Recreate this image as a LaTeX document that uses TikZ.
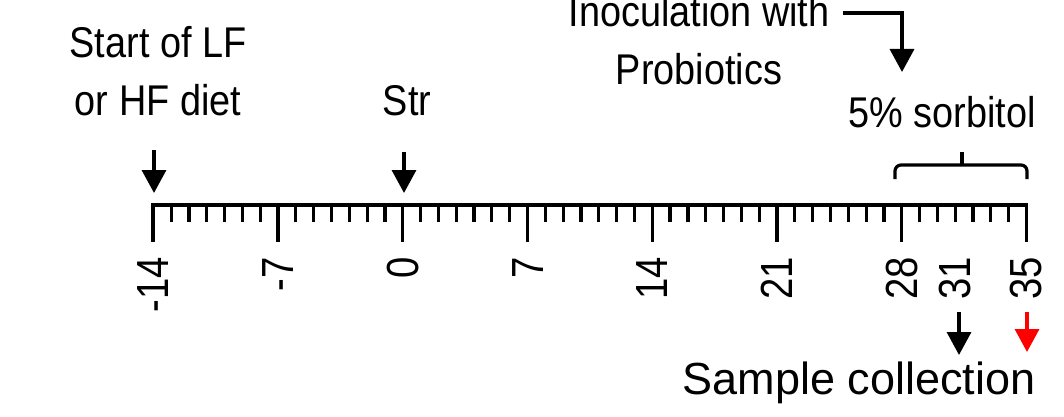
\documentclass[tikz,border=0pt]{standalone}
\usepackage{fontspec}
\setmainfont{Liberation Sans}
\newfontfamily\narrowfont{Liberation Sans}[FakeStretch=0.88]
\newfontfamily\numfont{Liberation Sans}[FakeStretch=0.85]
\usetikzlibrary{arrows.meta}
\begin{document}
\begin{tikzpicture}[x=1pt,y=-1pt,
  lbl/.style={inner sep=0pt, anchor=base, align=center, font=\narrowfont\fontsize{43}{58}\selectfont},
  daylbl/.style={inner sep=0pt, rotate=90, anchor=east, font=\numfont\fontsize{45}{50}\selectfont},
  marker/.style={line width=3.4pt, -{Triangle[width=24pt,length=23pt]}},
  axisline/.style={line width=3.8pt, line join=miter},
  tickline/.style={line width=3.2pt},
  bracket/.style={line width=3.2pt, rounded corners=6pt}]
\useasboundingbox (0,0) rectangle (1064,417);
\def\dx{17.82}
\def\xo{153.3}
% axis
\draw[axisline] (\xo,242) -- (\xo,205) -- ({\xo+49*\dx},205) -- ({\xo+49*\dx},242);
\foreach \d in {-13,...,34}{
  \pgfmathtruncatemacro\m{mod(\d+14,7)}
  \pgfmathsetmacro\xx{\xo+(\d+14)*\dx}
  \ifnum\m=0
    \draw[tickline] (\xx,205) -- (\xx,242);
  \else
    \draw[tickline] (\xx,205) -- (\xx,222);
  \fi
}
% day labels
\foreach \d in {-14,-7,0,7,14,21,28,31,35}{
  \pgfmathsetmacro\xx{\xo+(\d+14)*\dx}
  \node[daylbl] (d\d) at (\xx,257) {\d};
}
% texts
\node[lbl] (start) at (158,115) {Start of LF\\or HF diet};
\node[lbl] (str) at (407,115) {Str};
\node[lbl] (inoc) at (699,85) {Inoculation with\\Probiotics};
\node[lbl] (sorb) at (942,128) {5\% sorbitol};
\node[inner sep=0pt, anchor=base, font=\fontsize{45}{50}\selectfont] (sample) at (859,394) {Sample collection};
% arrow coordinates
\coordinate (a1s) at (154,150); \coordinate (a1e) at (154,193);
\coordinate (a2s) at (404,152); \coordinate (a2e) at (404,193);
\coordinate (a3s) at (843,13);  \coordinate (a3e) at (902,72);
\coordinate (a4s) at (959,312); \coordinate (a4e) at (959,355);
\coordinate (a5s) at (1027,312); \coordinate (a5e) at (1027,352);
\draw[marker] (a1s) -- (a1e);
\draw[marker] (a2s) -- (a2e);
\draw[marker, line join=miter] (a3s) -| (a3e);
\draw[marker] (a4s) -- (a4e);
\draw[marker, red, fill=red] (a5s) -- (a5e);
% bracket
\draw[bracket] (895,179) -- (895,165) -- (1027,165) -- (1027,179);
\draw[tickline] (962,166) -- (962,152);
\end{tikzpicture}
\end{document}
